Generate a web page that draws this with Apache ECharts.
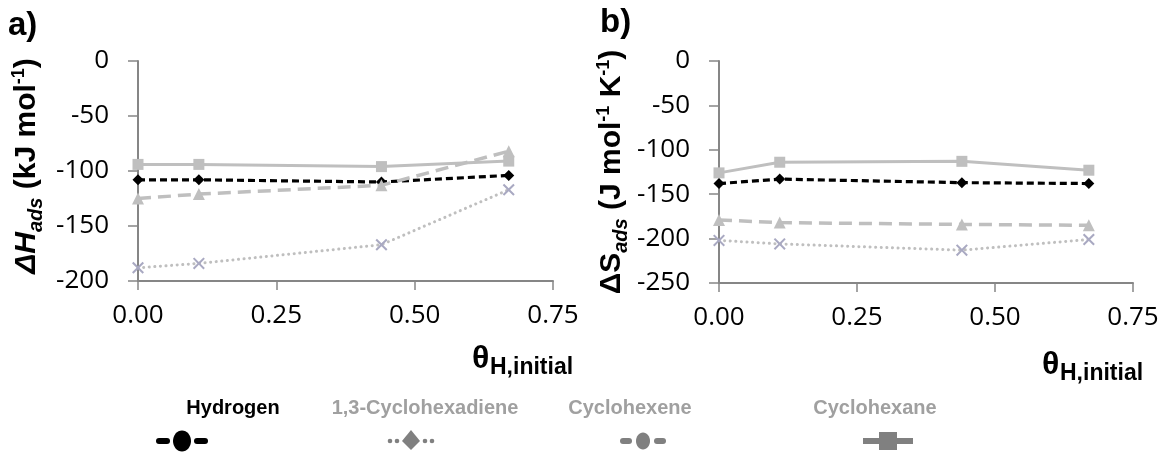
<!DOCTYPE html>
<html>
<head>
<meta charset="utf-8">
<script src="https://cdn.jsdelivr.net/npm/echarts@6/dist/echarts.min.js"></script>
<style>
  html, body { margin: 0; padding: 0; background: #fff; }
  #chart { width: 1162px; height: 454px; }
</style>
</head>
<body>
<div id="chart"></div>
<script>
// Initial hydrogen coverage (x values shared by both panels)
const coverage = [0, 0.11, 0.44, 0.67];
const xTickStep = 0.25;
const xMax = 0.75;

// a) adsorption enthalpy, kJ mol-1
const enthalpyHydrogen = [-108, -108, -110, -104];
const enthalpyDiene    = [-188, -184, -167, -117];
const enthalpyHexene   = [-125, -121, -113, -82];
const enthalpyHexane   = [-94, -94, -96, -91];

// b) adsorption entropy, J mol-1 K-1
const entropyHydrogen = [-138, -133, -137, -138];
const entropyDiene    = [-202, -206, -213, -201];
const entropyHexene   = [-179, -182, -184, -185];
const entropyHexane   = [-126, -114, -113, -123];

const seriesNames = ['Hydrogen', '1,3-Cyclohexadiene', 'Cyclohexene', 'Cyclohexane'];

const LIGHT = '#BFBFBF';
const AXIS = '#868686';
const LABEL_FONT = 'Open Sans';
const TITLE_FONT = 'Liberation Sans';

const crossPath = 'path://M0,1.2L1.2,0L5,3.8L8.8,0L10,1.2L6.2,5L10,8.8L8.8,10L5,6.2L1.2,10L0,8.8L3.8,5Z';

const styles = [
  { color: '#000', line: { type: [7, 4], width: 3.2 }, symbol: 'diamond', size: 11, markColor: '#000' },
  { color: LIGHT, line: { type: [0.1, 5.5], width: 3, cap: 'round' }, symbol: crossPath, size: 12, markColor: '#A9A9C2' },
  { color: LIGHT, line: { type: [13, 7], width: 3.5 }, symbol: 'triangle', size: 12, markColor: LIGHT },
  { color: LIGHT, line: { type: 'solid', width: 3 }, symbol: 'rect', size: 11, markColor: LIGHT }
];

const pairs = vals => coverage.map((x, i) => [x, vals[i]]);

function makeSeries(valueSets, gridIndex) {
  return valueSets.map((vals, k) => ({
    name: seriesNames[k],
    type: 'line',
    xAxisIndex: gridIndex,
    yAxisIndex: gridIndex,
    data: pairs(vals),
    symbol: styles[k].symbol,
    symbolSize: styles[k].size,
    showSymbol: true,
    lineStyle: Object.assign({ color: styles[k].color }, styles[k].line),
    itemStyle: { color: styles[k].markColor, borderWidth: 0 },
    z: 2 + k
  }));
}

function xAxisFor(gridIndex) {
  return {
    type: 'value', gridIndex, min: 0, max: xMax, interval: xTickStep,
    axisLine: { onZero: false, lineStyle: { color: AXIS, width: 2 } },
    axisTick: { show: true, inside: false, length: 9, lineStyle: { color: AXIS, width: 1.5 } },
    axisLabel: { formatter: v => v.toFixed(2), fontFamily: LABEL_FONT, fontSize: 26, color: '#000', margin: 22 },
    splitLine: { show: false }
  };
}

function yAxisFor(gridIndex, min) {
  return {
    type: 'value', gridIndex, min, max: 0, interval: 50,
    axisLine: { show: true, onZero: false, lineStyle: { color: AXIS, width: 2 } },
    axisTick: { show: true, inside: false, length: 10, lineStyle: { color: AXIS, width: 1.5 } },
    axisLabel: { fontFamily: LABEL_FONT, fontSize: 26, color: '#000', margin: 29 },
    splitLine: { show: false }
  };
}

// text measuring for the hand-laid titles
const mctx = document.createElement('canvas').getContext('2d');
function fontStr(p) {
  return `${p.italic ? 'italic ' : ''}bold ${p.size}px "${TITLE_FONT}"`;
}
function textWidth(p) {
  mctx.font = fontStr(p);
  return mctx.measureText(p.text).width;
}

// a run of text pieces on a common baseline (local y = 0), centred on x = 0
function textRun(pieces, color) {
  const widths = pieces.map(textWidth);
  const total = widths.reduce((a, b) => a + b, 0);
  let x = -total / 2;
  return pieces.map((p, i) => {
    const el = {
      type: 'text',
      style: {
        text: p.text, x, y: (p.dy || 0) - 0.35 * p.size,
        font: fontStr(p), fill: color, align: 'left', verticalAlign: 'middle'
      }
    };
    x += widths[i];
    return el;
  });
}

function yTitle(cx, cy, pieces) {
  return { type: 'group', x: cx, y: cy, rotation: Math.PI / 2, children: textRun(pieces, '#000') };
}

function thetaTitle(left, baseline) {
  return [
    { type: 'text', style: { text: 'θ', x: left, y: baseline - 0.35 * 32, font: `bold 32px "${TITLE_FONT}"`, fill: '#000', verticalAlign: 'middle' } },
    { type: 'text', style: { text: 'H,initial', x: left + 18, y: baseline + 6 - 0.35 * 23, font: `bold 23px "${TITLE_FONT}"`, fill: '#000', verticalAlign: 'middle' } }
  ];
}

function panelTag(text, x, baseline) {
  return { type: 'text', style: { text, x, y: baseline - 0.35 * 33, font: `bold 33px "${TITLE_FONT}"`, fill: '#000', verticalAlign: 'middle' } };
}

// legend: names on one row, keys on the row beneath
const LEG_TEXT_Y = 408, LEG_KEY_Y = 441;
const legendTextX = [233, 425, 630, 875];
const legendKeyX = [182, 411, 643, 888];
const legendTextColor = ['#000', '#A0A0A0', '#A0A0A0', '#A0A0A0'];
const KEY_GRAY = '#808080';

function legendKey(k, cx, cy) {
  const els = [];
  if (k === 0 || k === 2) {
    const c = k === 0 ? '#000' : KEY_GRAY;
    const dw = k === 0 ? 14 : 12;
    const half = k === 0 ? 26 : 23;
    els.push({ type: 'rect', shape: { x: cx - half, y: cy - 3, width: dw, height: 6, r: 3 }, style: { fill: c } });
    els.push({ type: 'rect', shape: { x: cx + half - dw, y: cy - 3, width: dw, height: 6, r: 3 }, style: { fill: c } });
    const rx = k === 0 ? 9 : 7, ry = k === 0 ? 10.5 : 8.5;
    els.push({ type: 'ellipse', shape: { cx, cy, rx, ry }, style: { fill: c } });
  } else if (k === 1) {
    [-21, -14, 14, 21].forEach(d => els.push({ type: 'circle', shape: { cx: cx + d, cy, r: 2.3 }, style: { fill: KEY_GRAY } }));
    els.push({ type: 'polygon', shape: { points: [[cx, cy - 11], [cx + 9, cy], [cx, cy + 9], [cx - 9, cy]] }, style: { fill: KEY_GRAY } });
  } else {
    els.push({ type: 'rect', shape: { x: cx - 25, y: cy - 3, width: 50, height: 6 }, style: { fill: KEY_GRAY } });
    els.push({ type: 'rect', shape: { x: cx - 9, y: cy - 9, width: 18, height: 18 }, style: { fill: KEY_GRAY } });
  }
  return els;
}

const legendEls = [];
seriesNames.forEach((name, k) => {
  legendEls.push({ type: 'text', style: { text: name, x: legendTextX[k], y: LEG_TEXT_Y, font: `bold 20px "${TITLE_FONT}"`, fill: legendTextColor[k], align: 'center', verticalAlign: 'middle' } });
  legendEls.push(...legendKey(k, legendKeyX[k], LEG_KEY_Y));
});

const chart = echarts.init(document.getElementById('chart'), null, { renderer: 'canvas' });
chart.setOption({
  animation: false,
  backgroundColor: '#fff',
  grid: [
    { left: 138, top: 61, width: 415, height: 220 },
    { left: 719, top: 61, width: 414, height: 222 }
  ],
  xAxis: [xAxisFor(0), xAxisFor(1)],
  yAxis: [yAxisFor(0, -200), yAxisFor(1, -250)],
  series: [
    ...makeSeries([enthalpyHydrogen, enthalpyDiene, enthalpyHexene, enthalpyHexane], 0),
    ...makeSeries([entropyHydrogen, entropyDiene, entropyHexene, entropyHexane], 1)
  ],
  graphic: [
    panelTag('a)', 8, 37),
    panelTag('b)', 600, 34),
    yTitle(37, 166, [
      { text: 'Δ', size: 30, italic: true },
      { text: 'H', size: 30, italic: true },
      { text: 'ads', size: 20, italic: true, dy: 6 },
      { text: ' (kJ mol', size: 30 },
      { text: '-1', size: 18, dy: -12 },
      { text: ')', size: 30 }
    ]),
    yTitle(622, 172, [
      { text: 'ΔS', size: 30 },
      { text: 'ads', size: 20, italic: true, dy: 6 },
      { text: ' (J mol', size: 30 },
      { text: '-1', size: 18, dy: -12 },
      { text: ' K', size: 30 },
      { text: '-1', size: 18, dy: -12 },
      { text: ')', size: 30 }
    ]),
    ...thetaTitle(472, 370),
    ...thetaTitle(1042, 376),
    ...legendEls
  ]
});
</script>
</body>
</html>
